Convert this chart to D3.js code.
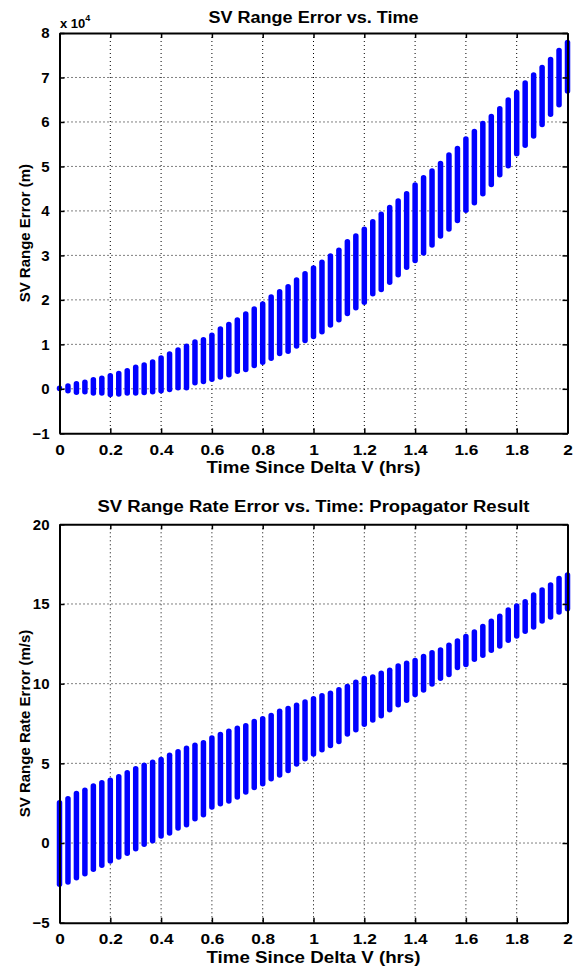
<!DOCTYPE html>
<html>
<head>
<meta charset="utf-8">
<script src="https://d3js.org/d3.v7.min.js"></script>
<style>
  body { margin: 0; background: #fff; }
  text { font-family: "Liberation Sans", Arial, sans-serif; font-weight: bold; fill: #000; }
</style>
</head>
<body>
<div id="chart"></div>
<script>
// time since delta V, in minutes (one sample every 2 min)
const minutes = [0, 2, 4, 6, 8, 10, 12, 14, 16, 18, 20, 22, 24, 26, 28, 30, 32, 34, 36, 38,
  40, 42, 44, 46, 48, 50, 52, 54, 56, 58, 60, 62, 64, 66, 68, 70, 72, 74, 76, 78,
  80, 82, 84, 86, 88, 90, 92, 94, 96, 98, 100, 102, 104, 106, 108, 110, 112, 114, 116, 118, 120];

// range error spread per sample (x 10^4 m)
const rangeLow = [-0.03, -0.09, -0.12, -0.11, -0.14, -0.14, -0.17, -0.16, -0.14, -0.14,
  -0.13, -0.11, -0.09, -0.06, -0.02, -0.02, 0.09, 0.12, 0.17, 0.22,
  0.27, 0.35, 0.39, 0.48, 0.55, 0.64, 0.75, 0.80, 0.92, 1.04,
  1.13, 1.24, 1.39, 1.51, 1.65, 1.78, 1.90, 2.09, 2.19, 2.35,
  2.52, 2.69, 2.84, 3.01, 3.19, 3.39, 3.55, 3.74, 3.97, 4.14,
  4.34, 4.55, 4.77, 4.97, 5.24, 5.43, 5.64, 5.90, 6.13, 6.34, 6.65];
const rangeHigh = [0.05, 0.11, 0.16, 0.19, 0.25, 0.28, 0.34, 0.39, 0.45, 0.53,
  0.58, 0.65, 0.74, 0.83, 0.92, 1.00, 1.10, 1.15, 1.25, 1.39,
  1.49, 1.59, 1.73, 1.84, 1.95, 2.11, 2.23, 2.34, 2.49, 2.63,
  2.76, 2.89, 3.03, 3.16, 3.35, 3.48, 3.63, 3.80, 3.97, 4.12,
  4.27, 4.43, 4.63, 4.79, 4.94, 5.11, 5.30, 5.45, 5.66, 5.83,
  6.01, 6.17, 6.34, 6.54, 6.71, 6.92, 7.10, 7.27, 7.45, 7.65, 7.83];

// range rate error spread per sample (m/s)
const rateLow = [-2.71, -2.57, -2.30, -2.05, -1.77, -1.52, -1.25, -1.00, -0.77, -0.48,
  -0.21, 0.02, 0.31, 0.50, 0.81, 1.02, 1.40, 1.65, 2.13, 2.34,
  2.51, 2.76, 3.07, 3.36, 3.59, 3.90, 4.15, 4.43, 4.84, 5.16,
  5.46, 5.73, 6.00, 6.25, 6.71, 6.98, 7.32, 7.59, 7.86, 8.24,
  8.55, 8.84, 9.20, 9.47, 9.86, 10.22, 10.45, 10.89, 11.08, 11.41,
  11.66, 11.97, 12.24, 12.60, 12.87, 13.16, 13.43, 13.81, 14.06, 14.37, 14.58];
const rateHigh = [2.65, 2.90, 3.24, 3.44, 3.70, 3.90, 4.07, 4.28, 4.53, 4.78,
  5.01, 5.20, 5.37, 5.64, 5.85, 6.08, 6.26, 6.41, 6.72, 6.93,
  7.14, 7.33, 7.49, 7.75, 7.93, 8.12, 8.39, 8.56, 8.77, 8.98,
  9.18, 9.36, 9.53, 9.74, 9.95, 10.22, 10.45, 10.55, 10.78, 10.97,
  11.24, 11.41, 11.58, 11.83, 12.06, 12.24, 12.54, 12.81, 13.08, 13.37,
  13.71, 14.04, 14.35, 14.75, 15.00, 15.27, 15.69, 16.00, 16.32, 16.73, 16.94];

const xTicks = [0, 0.2, 0.4, 0.6, 0.8, 1, 1.2, 1.4, 1.6, 1.8, 2];
const rangeTicks = [-1, 0, 1, 2, 3, 4, 5, 6, 7, 8];
const rateTicks = [-5, 0, 5, 10, 15, 20];

const width = 577, height = 966;
const svg = d3.select("#chart").append("svg")
  .attr("width", width)
  .attr("height", height);

// draw one MATLAB-style subplot
function drawPanel(opts) {
  const x = d3.scaleLinear().domain([0, 2]).range([59.5, 567.5]);
  const y = d3.scaleLinear().domain(opts.yDomain).range([opts.bottom, opts.top]);
  const g = svg.append("g");

  // dotted grid
  g.selectAll(".vgrid").data(xTicks.slice(1, -1)).enter().append("line")
    .attr("x1", d => x(d)).attr("x2", d => x(d))
    .attr("y1", opts.top).attr("y2", opts.bottom)
    .attr("stroke", "#000").attr("stroke-width", 1).attr("stroke-dasharray", "1,3");
  g.selectAll(".hgrid").data(opts.yTicks.slice(1, -1)).enter().append("line")
    .attr("x1", x(0)).attr("x2", x(2))
    .attr("y1", d => y(d)).attr("y2", d => y(d))
    .attr("stroke", "#000").attr("stroke-width", 1).attr("stroke-dasharray", "1,3");

  // bars
  const data = minutes.map((m, i) => ({ t: m / 60, lo: opts.low[i], hi: opts.high[i] }));
  g.selectAll(".bar").data(data).enter().append("line")
    .attr("x1", d => x(d.t)).attr("x2", d => x(d.t))
    .attr("y1", d => y(d.lo) - 2).attr("y2", d => y(d.hi) + 2)
    .attr("stroke", "#0000ff").attr("stroke-width", 5.5).attr("stroke-linecap", "round");

  // axes (ticks inward, box around)
  g.append("g").attr("transform", `translate(0,${opts.bottom})`)
    .call(d3.axisBottom(x).tickValues(xTicks).tickSizeInner(-5).tickSizeOuter(0).tickPadding(11)
      .tickFormat(d => d3.format("")(+d.toFixed(1))))
    .selectAll("text").attr("transform", "scale(1.15,1)");
  g.append("g").attr("transform", `translate(0,${opts.top})`)
    .call(d3.axisTop(x).tickValues(xTicks).tickSizeInner(-5).tickSizeOuter(0).tickFormat(""));
  g.append("g").attr("transform", `translate(${x(0)},0)`)
    .call(d3.axisLeft(y).tickValues(opts.yTicks).tickSizeInner(-5).tickSizeOuter(0).tickPadding(10));
  g.append("g").attr("transform", `translate(${x(2)},0)`)
    .call(d3.axisRight(y).tickValues(opts.yTicks).tickSizeInner(-5).tickSizeOuter(0).tickFormat(""));
  g.selectAll(".domain").attr("stroke", "#000").attr("stroke-width", 2);
  g.selectAll(".tick line").attr("stroke", "#000").attr("stroke-width", 1.5);
  g.selectAll(".tick text").attr("font-size", 15).attr("font-weight", "bold")
    .attr("font-family", "'Liberation Sans', Arial, sans-serif").attr("fill", "#000");

  // labels (horizontal text in the source is stretched wide)
  g.append("text").attr("x", 313.5).attr("y", opts.titleY)
    .attr("text-anchor", "middle").attr("font-size", 16)
    .attr("textLength", opts.titleLen).attr("lengthAdjust", "spacingAndGlyphs")
    .text(opts.title);
  g.append("text").attr("x", 313.5).attr("y", opts.bottom + 40)
    .attr("text-anchor", "middle").attr("font-size", 16)
    .attr("textLength", 214).attr("lengthAdjust", "spacingAndGlyphs")
    .text("Time Since Delta V (hrs)");
  g.append("text")
    .attr("transform", `translate(30,${(opts.top + opts.bottom) / 2}) rotate(-90)`)
    .attr("text-anchor", "middle").attr("font-size", 15).text(opts.yLabel);
  return g;
}

const rangePanel = drawPanel({
  top: 33, bottom: 433.3, yDomain: [-1, 8], yTicks: rangeTicks,
  low: rangeLow, high: rangeHigh, titleY: 23, titleLen: 210,
  title: "SV Range Error vs. Time", yLabel: "SV Range Error (m)"
});
const expLabel = rangePanel.append("text").attr("x", 60).attr("y", 28).attr("font-size", 13);
expLabel.append("tspan").text("x 10");
expLabel.append("tspan").attr("dy", -7).attr("font-size", 9).text("4");

drawPanel({
  top: 524.3, bottom: 922.7, yDomain: [-5, 20], yTicks: rateTicks,
  low: rateLow, high: rateHigh, titleY: 512, titleLen: 432,
  title: "SV Range Rate Error vs. Time: Propagator Result", yLabel: "SV Range Rate Error (m/s)"
});
</script>
</body>
</html>
